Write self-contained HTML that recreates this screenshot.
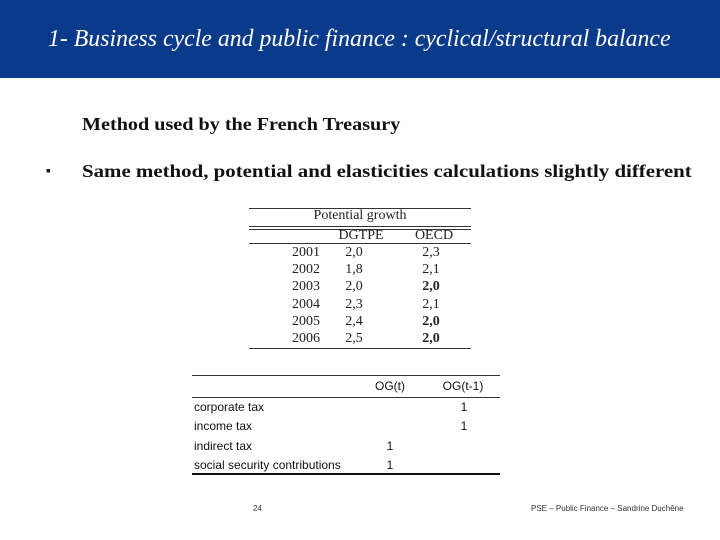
<!DOCTYPE html>
<html><head><meta charset="utf-8"><style>
body{margin:0;width:720px;height:540px;position:relative;background:#fff;overflow:hidden;font-family:"Liberation Serif",serif}
.a{position:absolute;white-space:nowrap}
.s{font-family:"Liberation Serif",serif;font-size:14px;color:#222}
.c{font-family:"Liberation Sans",sans-serif;font-size:12px;color:#111}
.l{position:absolute;background:#333}
.ctr{transform:translateX(-50%)}
</style></head><body>
<div class="a" style="left:0;top:0;width:720px;height:78px;background:#0a3a8a"></div>
<div class="a" style="left:48px;top:26px;color:#fff;font-style:italic;font-size:23.8px">1- Business cycle and public finance : cyclical/structural balance</div>
<div class="a" style="left:82px;top:114px;font-size:18px;font-weight:bold;color:#111;transform:scaleX(1.12);transform-origin:0 0">Method used by the French Treasury</div>
<div class="a" style="left:46px;top:164px;font-size:14px;color:#111">&#9642;</div>
<div class="a" style="left:82px;top:161px;font-size:18px;font-weight:bold;color:#111;transform:scaleX(1.16);transform-origin:0 0">Same method, potential and elasticities calculations slightly different</div>

<div>
<div class="l" style="left:249px;top:208px;width:222px;height:1px"></div>
<div class="a s ctr" style="left:360px;top:208px">Potential growth</div>
<div class="l" style="left:249px;top:226px;width:222px;height:1px"></div>
<div class="l" style="left:249px;top:229px;width:222px;height:1px"></div>
<div class="a s ctr" style="left:361px;top:228px">DGTPE</div>
<div class="a s ctr" style="left:434px;top:228px">OECD</div>
<div class="l" style="left:249px;top:243px;width:222px;height:1px"></div>
<div id="rows1"></div>
<div class="l" style="left:249px;top:348px;width:222px;height:1px"></div>
</div>

<div>
<div class="l" style="left:192px;top:375px;width:308px;height:1px"></div>
<div class="a c ctr" style="left:390px;top:379px">OG(t)</div>
<div class="a c ctr" style="left:463px;top:379px">OG(t-1)</div>
<div class="l" style="left:192px;top:397px;width:308px;height:1px"></div>
<div id="rows2"></div>
<div class="l" style="left:192px;top:473px;width:308px;height:2px;background:#111"></div>
</div>

<div class="a" style="left:253px;top:504px;font-family:'Liberation Sans',sans-serif;font-size:8px;color:#333">24</div>
<div class="a" style="left:531px;top:504px;font-family:'Liberation Sans',sans-serif;font-size:8px;color:#333">PSE – Public Finance – Sandrine Duchêne</div>
<script>
const years=["2001","2002","2003","2004","2005","2006"];
const dgtpe=["2,0","1,8","2,0","2,3","2,4","2,5"];
const oecd=["2,3","2,1","2,0","2,1","2,0","2,0"];
const oecdBold=[false,false,true,false,true,true];
const taxes=["corporate tax","income tax","indirect tax","social security contributions"];
const ogt=["","","1","1"];
const ogt1=["1","1","",""];
function mk(parent,cls,x,y,t,name,extra){
  const d=document.createElement('div');
  d.className='a '+cls;d.style.left=x+'px';d.style.top=y+'px';d.textContent=t;
  if(extra)d.style.cssText+=extra;
  
  
  parent.appendChild(d);
}
const r1=document.getElementById('rows1');
years.forEach((y,i)=>{const top=245+i*17.2;
  mk(r1,'s ctr',306,top,y,'year-cell');
  mk(r1,'s ctr',354,top,dgtpe[i],'dgtpe-cell');
  mk(r1,'s ctr',431,top,oecd[i],'oecd-cell',oecdBold[i]?'font-weight:bold':'');
});
const r2=document.getElementById('rows2');
taxes.forEach((t,i)=>{const top=400+i*19.3;
  mk(r2,'c',194,top,t,'tax-label');
  if(ogt[i])mk(r2,'c ctr',390,top,ogt[i],'og-t-cell');
  if(ogt1[i])mk(r2,'c ctr',464,top,ogt1[i],'og-t-1-cell');
});
</script>
</body></html>
